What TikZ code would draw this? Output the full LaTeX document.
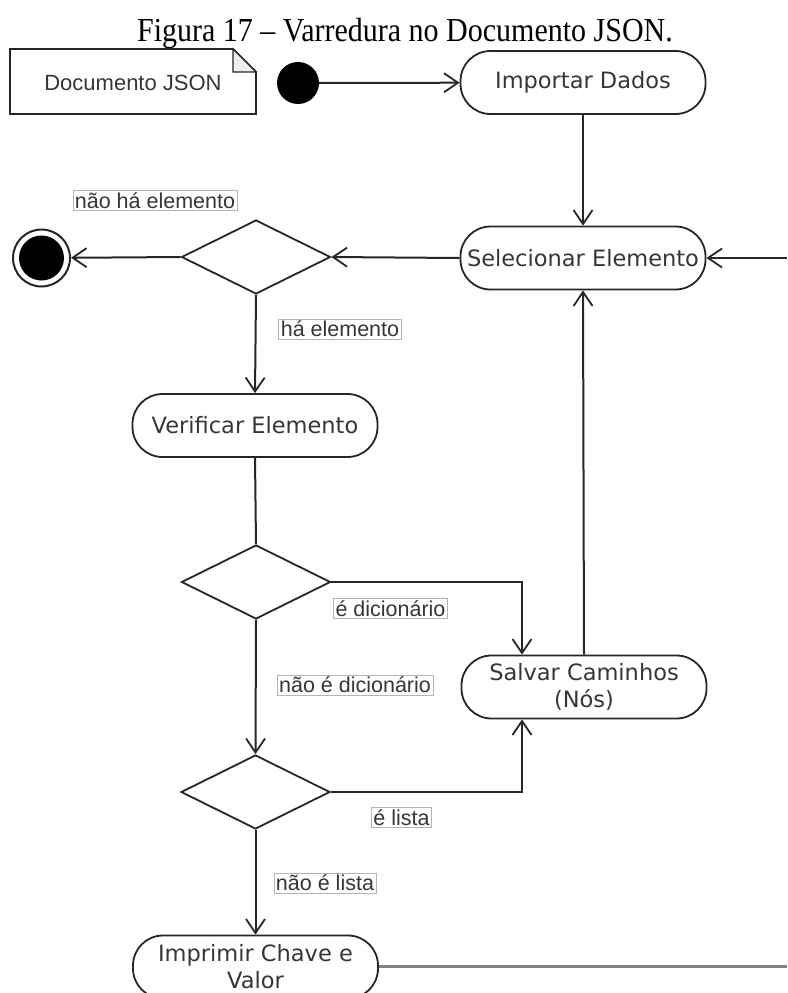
\documentclass[tikz,border=0pt]{standalone}
\usepackage{fontspec}
\setmainfont{Liberation Serif}
\newfontfamily\nodefont{DejaVu Sans}
\newfontfamily\labelfont{Liberation Sans}
\usetikzlibrary{arrows.meta,shapes.geometric,calc}

\definecolor{linec}{HTML}{262626}
\definecolor{textc}{HTML}{363636}
\definecolor{framec}{HTML}{B4B4B4}
\definecolor{foldc}{HTML}{EDEDED}

\begin{document}
\begin{tikzpicture}[x=1pt,y=-1pt,
  flow/.style={draw=linec, line width=2pt,
    -{Straight Barb[length=14pt,width=19pt,line width=1.8pt]}},
  plain/.style={draw=linec, line width=2pt},
  activity/.style={draw=linec, line width=1.8pt, rectangle,
    rounded corners=30pt, minimum width=245pt, minimum height=63pt,
    inner sep=0pt, align=center, text=textc,
    font=\nodefont\fontsize{22.5}{27}\selectfont},
  decision/.style={draw=linec, line width=1.8pt, diamond,
    minimum width=149pt, minimum height=74pt, inner sep=0pt},
  guard/.style={draw=framec, line width=0.8pt, fill=white, inner sep=2pt,
    text=textc, font=\labelfont\fontsize{21.5}{23}\selectfont}]

% page frame and clipping of the lower edge
\useasboundingbox (0,0) rectangle (787,993);
\clip (0,0) rectangle (787,993);

% caption
\node[yscale=1.12] (title) at (405,33) {\fontsize{30}{32}\selectfont Figura 17 -- Varredura no Documento JSON.};

% note with folded corner
\coordinate (nA) at (10,49);
\coordinate (nB) at (233,49);
\coordinate (nC) at (256,72);
\coordinate (nD) at (256,114);
\coordinate (nE) at (10,114);
\coordinate (nF) at (233,72);
\draw[linec, line width=1.8pt, fill=white] (nA) -- (nB) -- (nC) -- (nD) -- (nE) -- cycle;
\draw[linec, line width=1.2pt, fill=foldc] (nB) -- (nF) -- (nC) -- cycle;
\node[text=textc, font=\labelfont\fontsize{22}{26}\selectfont] (note) at (133,83) {Documento JSON};

% initial and final states
\node[circle, fill=black, minimum size=42pt, inner sep=0pt] (start) at (298,83) {};
\node[circle, draw=linec, line width=2pt, minimum size=57pt, inner sep=0pt] (final) at (41.5,258) {};
\node[circle, fill=black, minimum size=45pt, inner sep=0pt] (finalin) at (41.5,258) {};

% activities
\node[activity] (imp) at (583,82.5) {Importar Dados};
\node[activity] (sel) at (583,258) {Selecionar Elemento};
\node[activity] (ver) at (255,425.5) {Verificar Elemento};
\node[activity] (sal) at (584,687) {Salvar Caminhos\\(Nós)};
\node[activity] (prt) at (255.5,967) {Imprimir Chave e\\Valor};

% decisions
\node[decision] (d1) at (256,257) {};
\node[decision] (d2) at (256,582) {};
\node[decision] (d3) at (255.5,792) {};

% free ends on the right border
\coordinate (inR) at (787,258);
\coordinate (outR) at (787,966);

% connectors
\draw[flow] (start) -- (imp);
\draw[flow] (imp) -- (sel);
\draw[flow] (inR) -- (sel.east);
\draw[flow] (sel.west) -- (d1.east);
\draw[flow] (d1.west) -- (final);
\draw[flow] (d1.south) -- (ver.north);
\draw[plain] (ver.south) -- (d2.north);
\draw[flow] (d2.east) -| ($(sal.north)+(-62,0)$);
\draw[flow] (d2.south) -- (d3.north);
\draw[flow] (d3.east) -| ($(sal.south)+(-62,0)$);
\draw[flow] (d3.south) -- (prt.north);
\draw[flow] (sal.north) -- (sel.south);
\draw[draw=gray, line width=3pt] (prt.east |- outR) -- (outR);

% guards
\node[guard] (g1) at (155,200.5) {não há elemento};
\node[guard] (g2) at (340,329) {há elemento};
\node[guard] (g3) at (390.5,608.5) {é dicionário};
\node[guard] (g4) at (355,685) {não é dicionário};
\node[guard] (g5) at (401.5,817.5) {é lista};
\node[guard] (g6) at (325,883) {não é lista};
\end{tikzpicture}
\end{document}
